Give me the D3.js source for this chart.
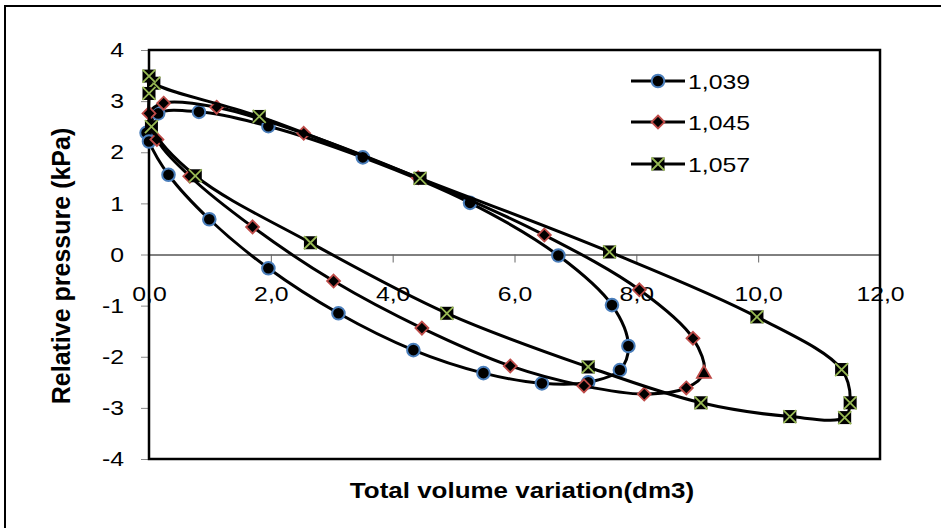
<!DOCTYPE html>
<html>
<head>
<meta charset="utf-8">
<script src="https://cdn.jsdelivr.net/npm/d3@7"></script>
<style>
  html, body { margin: 0; padding: 0; background: #fff; }
  svg { display: block; font-family: Arial, "Liberation Sans", sans-serif; }
</style>
</head>
<body>
<svg id="chart" width="941" height="528"></svg>
<script>
// ---------------- data ----------------
const seriesNames = ["1,039", "1,045", "1,057"];

const volume1039   = [-0.04, 0.15, 0.82, 1.96, 3.51, 5.27, 6.72, 7.60, 7.87, 7.73, 7.21, 6.45, 5.49, 4.34, 3.11, 1.96, 0.99, 0.32, 0.00];
const pressure1039 = [ 2.38, 2.76, 2.79, 2.51, 1.90, 1.01, -0.02, -0.99, -1.79, -2.26, -2.50, -2.52, -2.32, -1.87, -1.15, -0.27, 0.69, 1.56, 2.21];

const volume1045   = [0.00, 0.24, 1.11, 2.54, 4.42, 6.49, 8.05, 8.93, 9.11, 8.82, 8.13, 7.14, 5.93, 4.48, 3.03, 1.70, 0.67, 0.13];
const pressure1045 = [2.76, 2.96, 2.88, 2.37, 1.50, 0.38, -0.69, -1.64, -2.31, -2.61, -2.73, -2.57, -2.18, -1.44, -0.52, 0.54, 1.53, 2.25];

const volume1057   = [0.08, 1.81, 4.45, 7.56, 9.98, 11.37, 11.51, 11.42, 10.52, 9.06, 7.21, 4.89, 2.65, 0.76, 0.04, 0.00, 0.00];
const pressure1057 = [3.35, 2.70, 1.49, 0.05, -1.22, -2.25, -2.90, -3.19, -3.17, -2.90, -2.20, -1.15, 0.23, 1.54, 2.50, 3.15, 3.49];

const xTickValues = [0, 2, 4, 6, 8, 10, 12];
const xTickLabels = ["0,0", "2,0", "4,0", "6,0", "8,0", "10,0", "12,0"];
const yTickValues = [-4, -3, -2, -1, 0, 1, 2, 3, 4];

const xTitle = "Total volume variation(dm3)";
const yTitle = "Relative pressure (kPa)";

// ---------------- layout ----------------
const svg = d3.select("#chart");
const plot = { left: 149, right: 880, top: 50, bottom: 459 };
const STRETCH = 1.18; // the original picture is stretched horizontally

function widen(sel) {
  sel.each(function () {
    const w = this.getComputedTextLength();
    d3.select(this).attr("textLength", w * STRETCH).attr("lengthAdjust", "spacingAndGlyphs");
  });
}

const x = d3.scaleLinear().domain([0, 12]).range([plot.left, plot.right]);
const y = d3.scaleLinear().domain([-4, 4]).range([plot.bottom, plot.top]);

// outer chart border (extends past the photographed area)
svg.append("rect")
  .attr("x", 5).attr("y", 6).attr("width", 1000).attr("height", 1000)
  .attr("fill", "none").attr("stroke", "#000").attr("stroke-width", 2);

// y axis (ticks + labels)
const yAxis = svg.append("g")
  .attr("transform", `translate(${plot.left},0)`)
  .call(d3.axisLeft(y).tickValues(yTickValues).tickSize(8).tickPadding(17)
        .tickFormat(d => String(d)));
yAxis.select(".domain").remove();
yAxis.selectAll(".tick line").attr("stroke", "#888").attr("stroke-width", 1);
yAxis.selectAll(".tick text").attr("font-size", 21).attr("fill", "#000")
  .attr("font-family", "Arial, 'Liberation Sans', sans-serif").call(widen);

// x axis across the zero line
const xAxis = svg.append("g")
  .attr("transform", `translate(0,${y(0)})`)
  .call(d3.axisBottom(x).tickValues(xTickValues).tickSize(8).tickPadding(24)
        .tickFormat((d, i) => xTickLabels[i]));
xAxis.select(".domain").attr("stroke", "#000").attr("stroke-width", 1);
xAxis.selectAll(".tick line").attr("stroke", "#666").attr("stroke-width", 1);
xAxis.selectAll(".tick text").attr("font-size", 21).attr("fill", "#000")
  .attr("font-family", "Arial, 'Liberation Sans', sans-serif").call(widen);

// plot-area border
svg.append("rect")
  .attr("x", plot.left).attr("y", plot.top)
  .attr("width", plot.right - plot.left).attr("height", plot.bottom - plot.top)
  .attr("fill", "none").attr("stroke", "#000").attr("stroke-width", 2.5);

// axis titles
svg.append("text")
  .attr("transform", `translate(70,${266}) rotate(-90)`)
  .attr("text-anchor", "middle")
  .attr("font-size", 25).attr("font-weight", "bold")
  .text(yTitle);

svg.append("text")
  .attr("x", 522).attr("y", 498)
  .attr("text-anchor", "middle")
  .attr("font-size", 22).attr("font-weight", "bold")
  .text(xTitle).call(widen);

// ---------------- series ----------------
const colors = { blue: "#4a7ebb", red: "#be4b48", green: "#98b954" };

function pts(vx, vy) { return vx.map((v, i) => [v, vy[i]]); }
const data = [
  { name: seriesNames[0], points: pts(volume1039, pressure1039), marker: "circle", color: colors.blue },
  { name: seriesNames[1], points: pts(volume1045, pressure1045), marker: "diamond", color: colors.red },
  { name: seriesNames[2], points: pts(volume1057, pressure1057), marker: "xsquare", color: colors.green }
];

const line = d3.line()
  .x(d => x(d[0])).y(d => y(d[1]))
  .curve(d3.curveCatmullRomClosed.alpha(0.5));

function drawMarker(g, type, color, cx, cy) {
  if (type === "circle") {
    g.append("circle").attr("cx", cx).attr("cy", cy).attr("r", 6.3)
      .attr("fill", "#000").attr("stroke", color).attr("stroke-width", 2);
  } else if (type === "diamond") {
    const s = 6.5;
    g.append("path")
      .attr("d", `M${cx},${cy - s}L${cx + s},${cy}L${cx},${cy + s}L${cx - s},${cy}Z`)
      .attr("fill", "#000").attr("stroke", color).attr("stroke-width", 1.8);
  } else if (type === "triangle") {
    const s = 7;
    g.append("path")
      .attr("d", `M${cx},${cy - s}L${cx + s},${cy + s * 0.75}L${cx - s},${cy + s * 0.75}Z`)
      .attr("fill", "#000").attr("stroke", color).attr("stroke-width", 1.8);
  } else {
    const s = 6.5;
    g.append("rect").attr("x", cx - s).attr("y", cy - s).attr("width", 2 * s).attr("height", 2 * s)
      .attr("fill", "#000");
    g.append("path")
      .attr("d", `M${cx - s},${cy - s}L${cx + s},${cy + s}M${cx + s},${cy - s}L${cx - s},${cy + s}`)
      .attr("stroke", color).attr("stroke-width", 1.8);
  }
}

data.forEach(s => {
  const g = svg.append("g");
  g.append("path").attr("d", line(s.points))
    .attr("fill", "none").attr("stroke", "#000").attr("stroke-width", 3);
  s.points.forEach(p => {
    let type = s.marker;
    // one point of the 1,045 series is drawn with a triangle marker in the original
    if (s.name === "1,045" && p[0] === 9.11) type = "triangle";
    drawMarker(g, type, s.color, x(p[0]), y(p[1]));
  });
});

// ---------------- legend ----------------
const legendY = [81, 122, 164];
data.forEach((s, i) => {
  const g = svg.append("g");
  g.append("line").attr("x1", 631).attr("x2", 685).attr("y1", legendY[i]).attr("y2", legendY[i])
    .attr("stroke", "#000").attr("stroke-width", 3);
  drawMarker(g, s.marker, s.color, 658, legendY[i]);
  g.append("text").attr("x", 688).attr("y", legendY[i]).attr("dy", "0.36em")
    .attr("font-size", 21).text(s.name).call(widen);
});
</script>
</body>
</html>
